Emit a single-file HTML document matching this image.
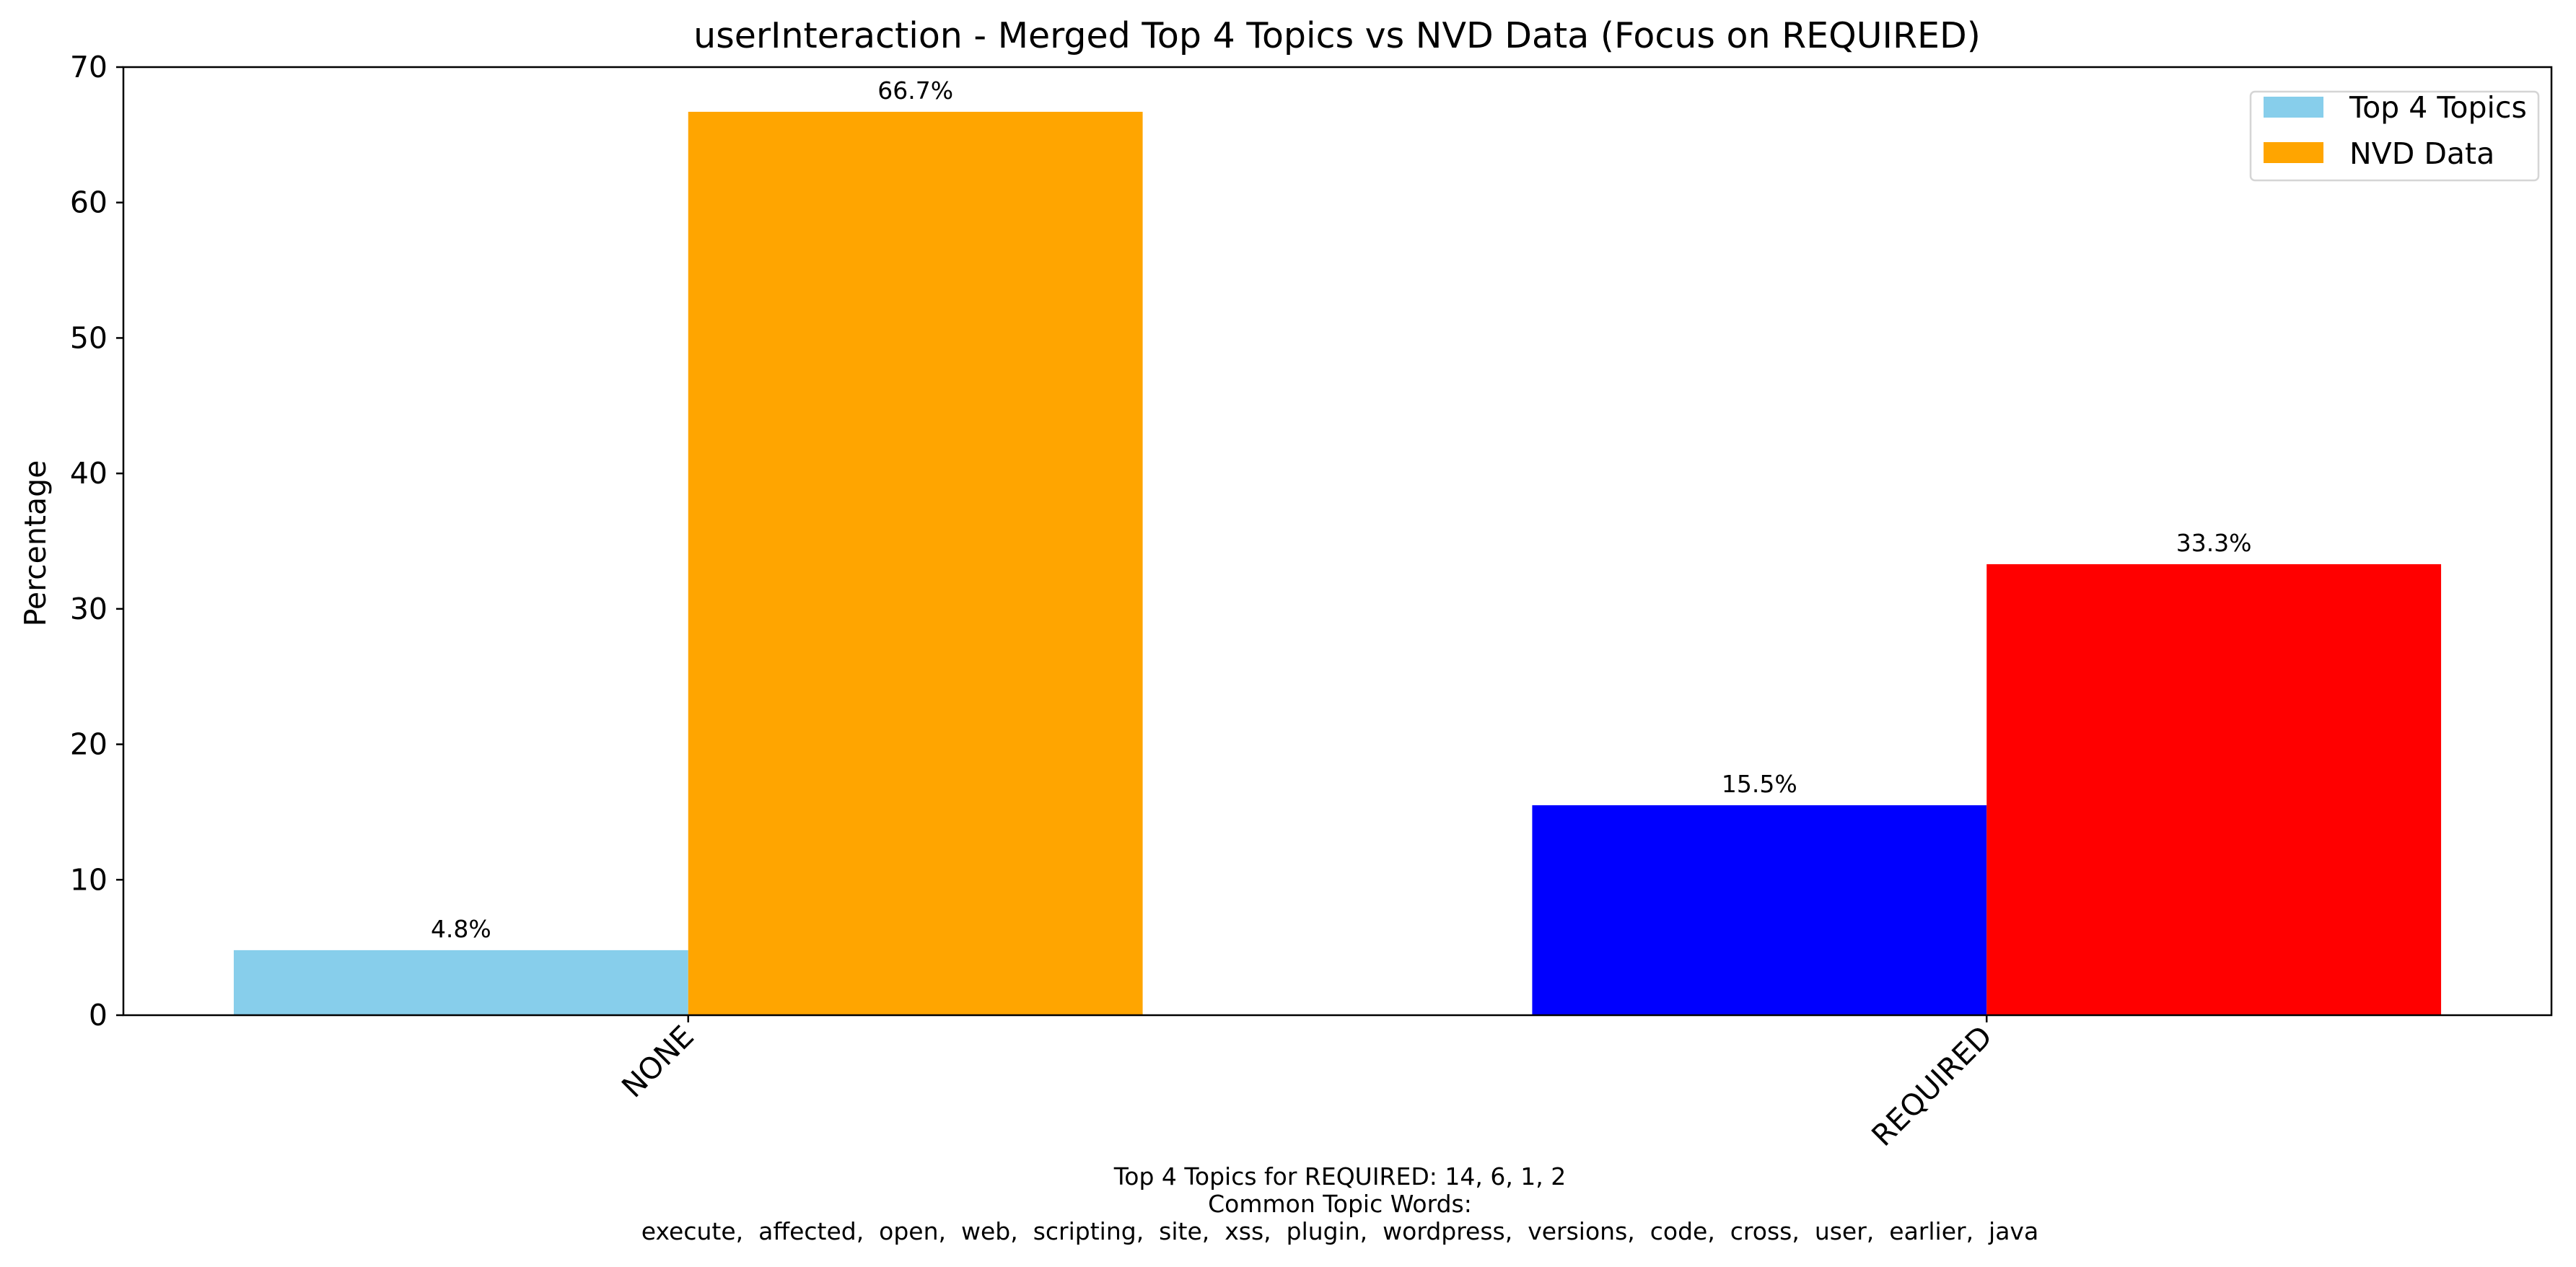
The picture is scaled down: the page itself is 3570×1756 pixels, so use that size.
<!DOCTYPE html>
<html><head><meta charset="utf-8"><style>
html,body{margin:0;padding:0;background:#fff;width:3570px;height:1756px;overflow:hidden}
svg text{font-family:"DejaVu Sans","Liberation Sans",sans-serif;fill:#000;white-space:pre}
</style></head><body>
<svg id="chart" width="3570" height="1756" viewBox="0 0 3570 1756" xmlns="http://www.w3.org/2000/svg" xml:space="preserve">
<rect width="3570" height="1756" fill="#fff"/>
<text x="1853" y="66" font-size="49" text-anchor="middle">userInteraction - Merged Top 4 Topics vs NVD Data (Focus on REQUIRED)</text>
<g id="plot"></g>
<rect x="171" y="93" width="3365" height="1314" fill="none" stroke="#000" stroke-width="2.5"/>
<text transform="translate(63,753) rotate(-90)" font-size="41" text-anchor="middle">Percentage</text>
<g>
<rect x="3119" y="127" width="399" height="123" rx="6" fill="#fff" stroke="#d5d5d5" stroke-width="2.5"/>
<rect x="3137" y="134" width="83" height="29" fill="#87CEEB"/>
<text x="3256" y="163" font-size="41">Top 4 Topics</text>
<rect x="3137" y="197" width="83" height="29" fill="#FFA500"/>
<text x="3256" y="227" font-size="41">NVD Data</text>
</g>
<g font-size="33">
<text x="1857" y="1642" text-anchor="middle">Top 4 Topics for REQUIRED: 14, 6, 1, 2</text>
<text x="1857" y="1680" text-anchor="middle">Common Topic Words:</text>
<text x="1857" y="1718" text-anchor="middle">execute,  affected,  open,  web,  scripting,  site,  xss,  plugin,  wordpress,  versions,  code,  cross,  user,  earlier,  java</text>
</g>
</svg>
<script>
const categories = ["NONE", "REQUIRED"];
const topicValues = [4.8, 15.5];
const nvdValues = [66.7, 33.3];
const topicColors = ["#87CEEB", "#0000FF"];
const nvdColors = ["#FFA500", "#FF0000"];
const yTicks = [0, 10, 20, 30, 40, 50, 60, 70];

const NS = "http://www.w3.org/2000/svg";
const L = 171, R = 3536, T = 93, B = 1407;
const xMin = -0.435, xMax = 1.435, yMax = 70;
const xs = v => L + (v - xMin) / (xMax - xMin) * (R - L);
const ys = v => B - v / yMax * (B - T);
const bw = 0.35;
const plot = document.getElementById("plot");
function mk(tag, attrs) {
  const e = document.createElementNS(NS, tag);
  for (const k in attrs) e.setAttribute(k, attrs[k]);
  plot.appendChild(e);
  return e;
}
yTicks.forEach(t => {
  const y = ys(t);
  const tk = mk("line", {x1: L - 10, x2: L, y1: y, y2: y, stroke: "#000", "stroke-width": 2.5});
  
  
  const lb = mk("text", {x: L - 22, y: y + 14, "font-size": 41, "text-anchor": "end"});
  lb.textContent = t;
  
  
});
categories.forEach((c, i) => {
  const cx = xs(i);
  const b1 = mk("rect", {x: xs(i - bw), y: ys(topicValues[i]), width: xs(i) - xs(i - bw), height: B - ys(topicValues[i]), fill: topicColors[i]});
  
  
  const b2 = mk("rect", {x: xs(i), y: ys(nvdValues[i]), width: xs(i + bw) - xs(i), height: B - ys(nvdValues[i]), fill: nvdColors[i]});
  
  
  const l1 = mk("text", {x: xs(i - bw / 2), y: ys(topicValues[i]) - 18, "font-size": 33, "text-anchor": "middle"});
  l1.textContent = topicValues[i].toFixed(1) + "%";
  
  
  const l2 = mk("text", {x: xs(i + bw / 2), y: ys(nvdValues[i]) - 18, "font-size": 33, "text-anchor": "middle"});
  l2.textContent = nvdValues[i].toFixed(1) + "%";
  
  
  const tk = mk("line", {x1: cx, x2: cx, y1: B, y2: B + 10, stroke: "#000", "stroke-width": 2.5});
  
  
  const lb = mk("text", {transform: `translate(${cx + 10},${B + 32}) rotate(-45)`, "font-size": 41, "text-anchor": "end"});
  lb.textContent = c;
  
  
});
</script>
</body></html>
